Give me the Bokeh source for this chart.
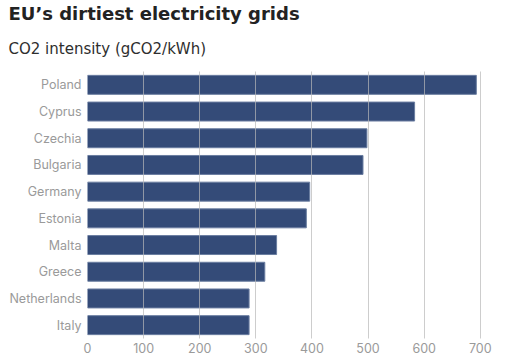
from bokeh.plotting import figure
from bokeh.models import Range1d, FactorRange, Title, ColumnDataSource
from bokeh.embed import file_html
from bokeh.resources import INLINE

countries = ["Poland", "Cyprus", "Czechia", "Bulgaria", "Germany",
             "Estonia", "Malta", "Greece", "Netherlands", "Italy"]
intensity = [693, 583, 498, 491, 396, 390, 337, 316, 288, 288]
x_ticks = [0, 100, 200, 300, 400, 500, 600, 700]

FONT = "Inter"
TFONT = "DejaVu Sans"
LEFT = 87
src = ColumnDataSource(dict(country=countries, value=intensity))

p = figure(width=517, height=361, output_backend="svg", toolbar_location=None,
           y_range=FactorRange(factors=countries[::-1]),
           x_range=Range1d(0, 745), title=None)

p.hbar(y="country", right="value", left=0, height=0.71, source=src,
       fill_color="#344b78", line_color="#6a7da0", line_width=1)

sub = Title(text="CO2 intensity (gCO2/kWh)", text_font=TFONT, text_font_size="15px",
            text_font_style="normal", text_color="#2e2e2e", offset=8 - LEFT, standoff=28)
p.add_layout(sub, "above")
main = Title(text="EU’s dirtiest electricity grids", text_font=TFONT, text_font_size="18px",
             text_font_style="bold", text_color="#222222", offset=8 - LEFT, standoff=0)
p.add_layout(main, "above")

p.xaxis.ticker = x_ticks
p.xaxis.axis_line_color = None
p.xaxis.major_tick_line_color = None
p.xaxis.minor_tick_line_color = None
p.xaxis.major_tick_out = 0
p.xaxis.major_tick_in = 0
p.xaxis.major_label_text_font = FONT
p.xaxis.major_label_text_font_size = "12.5px"
p.xaxis.major_label_text_color = "#9a9a9a"
p.xaxis.major_label_standoff = 4

p.yaxis.axis_line_color = None
p.yaxis.major_tick_line_color = None
p.yaxis.major_tick_out = 0
p.yaxis.major_tick_in = 0
p.yaxis.major_label_text_font = FONT
p.yaxis.major_label_text_font_size = "12.5px"
p.yaxis.major_label_text_color = "#9a9a9a"
p.yaxis.major_label_standoff = 6

p.ygrid.grid_line_color = None
p.xgrid.grid_line_color = "#b8b8b8"
p.xgrid.grid_line_alpha = 0.7
p.xgrid.level = "overlay"

p.outline_line_color = None
p.min_border_left = LEFT
p.min_border_right = 12
p.min_border_top = 0
p.min_border_bottom = 23
p.background_fill_color = "white"
p.border_fill_color = "white"

open("out.html", "w").write(file_html(p, INLINE))
